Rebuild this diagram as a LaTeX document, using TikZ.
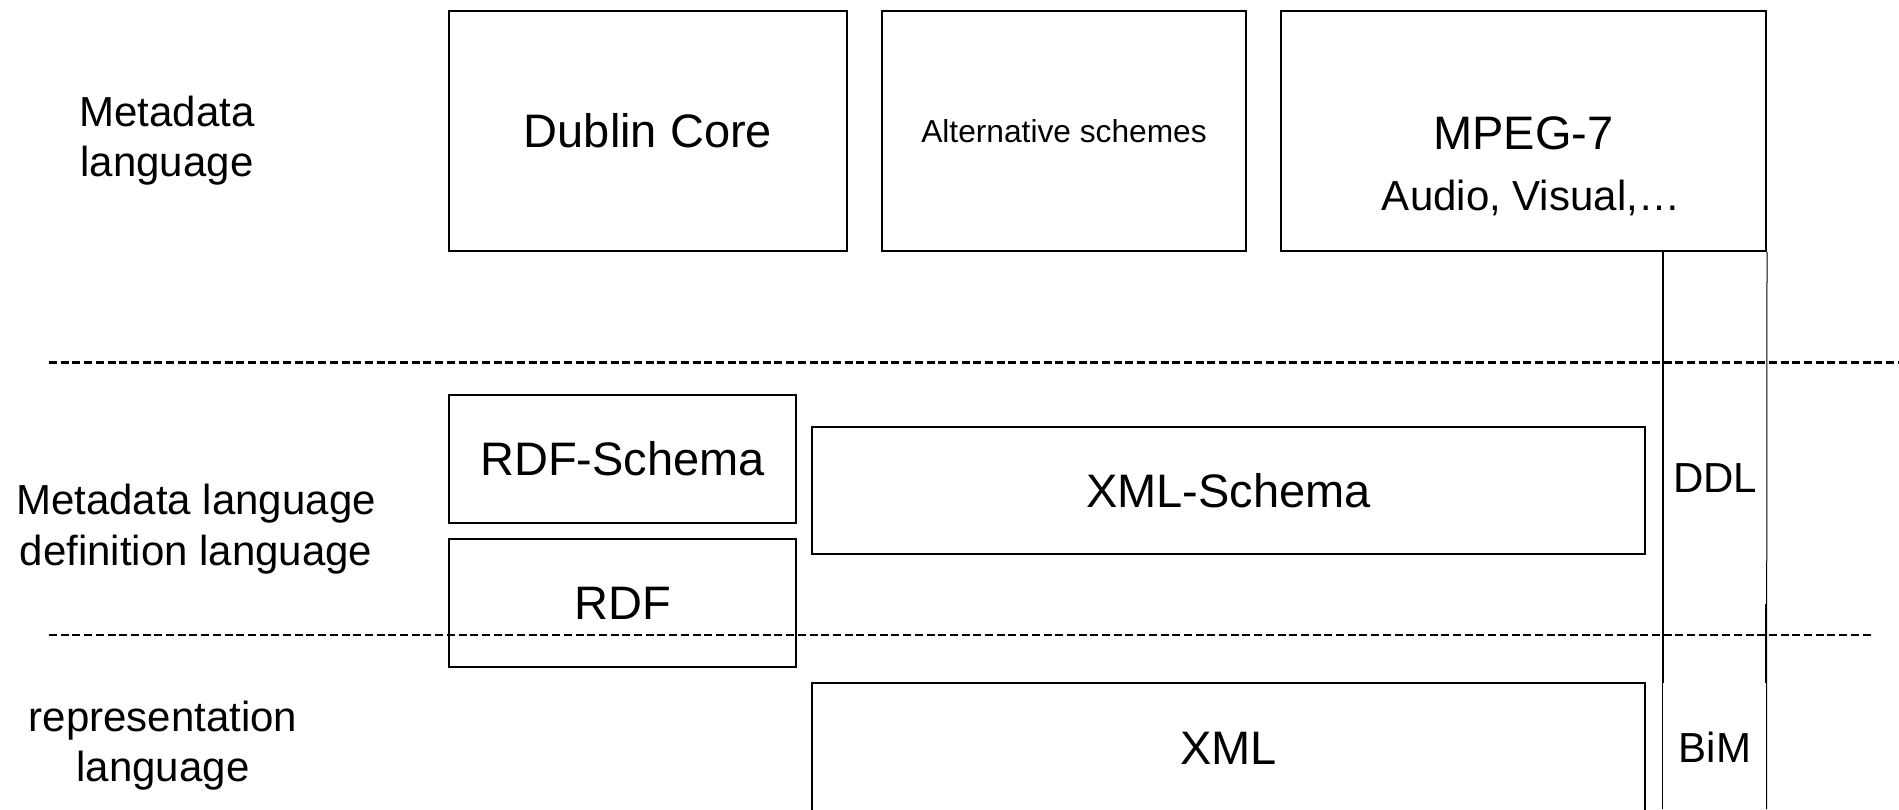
\documentclass[tikz,border=0pt]{standalone}
\usepackage{fontspec}
\setmainfont{Liberation Sans}
\begin{document}
\begin{tikzpicture}[x=0.5pt,y=-0.5pt,
  box/.style={draw, line width=1pt, rectangle, inner sep=0pt, anchor=center},
  bigtext/.style={font=\fontsize{23.5}{28}\selectfont, text height=16.8pt, text depth=0pt},
  smalltext/.style={font=\fontsize{15.85}{19}\selectfont, text height=11.35pt, text depth=0pt},
  plain/.style={inner sep=0pt, anchor=base},
  bigfont/.style={font=\fontsize{23.5}{28}\selectfont},
  midfont/.style={font=\fontsize{21}{25.35}\selectfont},
  layer/.style={line width=1.05pt, dash pattern=on 4pt off 1.85pt},
]
\clip (0,0) rectangle (1899,809);
\useasboundingbox (0,0) rectangle (1899,809);

% top layer: metadata languages
\node[box, bigtext, minimum width=199pt, minimum height=120pt] (dc) at (648,131) {Dublin Core};
\node[box, smalltext, minimum width=182pt, minimum height=120pt] (alt) at (1064,131) {Alternative schemes};
\node[box, minimum width=242.5pt, minimum height=120pt] (mpeg) at (1523.5,131) {};
\node[plain, bigfont] (mpegname) at (1523.5,149) {MPEG-7};
\node[plain, midfont] (mpegparts) at (1531,210) {Audio, Visual,…};

% middle layer: definition languages
\node[box, bigtext, minimum width=173.5pt, minimum height=64pt] (rdfs) at (622.5,459) {RDF-Schema};
\node[box, bigtext, minimum width=173.5pt, minimum height=64pt] (rdf) at (622.5,603) {RDF};
\node[box, bigtext, minimum width=416.5pt, minimum height=63.5pt] (xsd) at (1228.5,490.5) {XML-Schema};

% bottom layer: representation
\node[box, bigtext, minimum width=416.5pt, minimum height=65pt] (xml) at (1228.5,748) {XML};

% MPEG-7 column: DDL and BiM
\coordinate (coltop) at (1662.5,251);
\coordinate (colmid) at (1662.5,683);
\coordinate (colbot) at (1662.5,809);
\coordinate (edgebot) at (1766.5,809);
\coordinate (seamtop) at (1766,604);
\coordinate (seambot) at (1766,683);
\draw[line width=1pt] (coltop) -- (colmid);
\draw[line width=0.65pt] (colmid) -- (colbot);
\draw[line width=0.5pt] (mpeg.south east) -- (edgebot);
\draw[line width=0.9pt] (seamtop) -- (seambot);
\node[plain, midfont] (ddl) at (1715,492) {DDL};
\node[plain, midfont] (bim) at (1715,762.7) {BiM};

% layer separators
\coordinate (sep1a) at (49,362.5);
\coordinate (sep1b) at (1899,362.5);
\coordinate (sep2a) at (49,635);
\coordinate (sep2b) at (1871,635);
\draw[layer] (sep1a) -- (sep1b);
\draw[layer] (sep2a) -- (sep2b);

% layer names (base anchor sits on the last line)
\node[plain, midfont, align=center] (lmeta) at (167,176.7) {Metadata\\language};
\node[plain, midfont, align=center] (ldef) at (196,565) {Metadata language\\definition language};
\node[plain, midfont, align=center] (lrep) at (163,781.7) {representation\\language};
\end{tikzpicture}
\end{document}
